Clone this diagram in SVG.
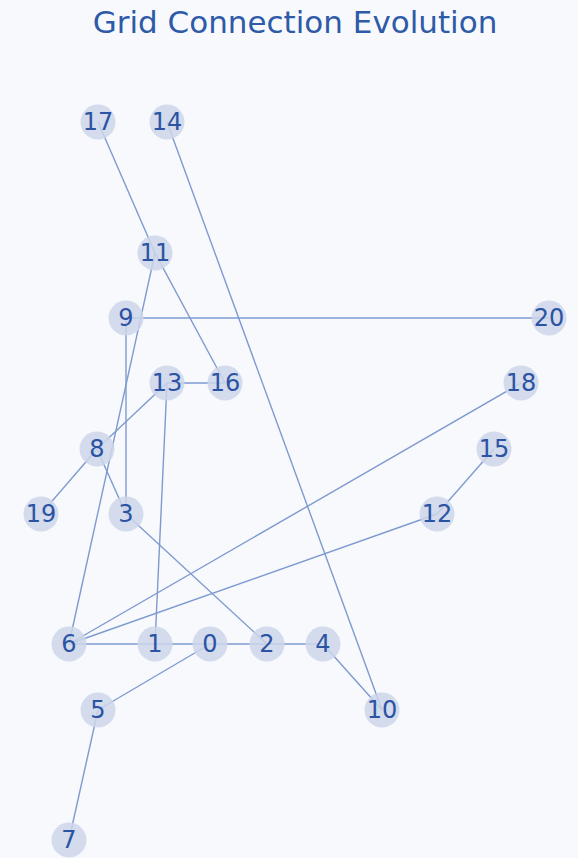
<svg xmlns="http://www.w3.org/2000/svg" width="578" height="858" viewBox="0 0 578 858">
<style>
.bg{fill:#f8f9fd}
.e{stroke:#7e9ad0;stroke-width:1.4;fill:none}
.n circle{fill:#ccd6ea;fill-opacity:0.85}
.n text{font-family:"DejaVu Sans",sans-serif;font-size:24px;fill:#2b53a3;text-anchor:middle;dominant-baseline:central}
.t{font-family:"DejaVu Sans",sans-serif;font-size:31px;fill:#2e5aa8;text-anchor:middle}
</style>
<rect class="bg" width="578" height="858"/>
<text class="t" x="295" y="33">Grid Connection Evolution</text>
<g id="edges">
<line class="e" x1="98" y1="122" x2="155" y2="253"/>
<line class="e" x1="167" y1="122" x2="382" y2="710"/>
<line class="e" x1="155" y1="253" x2="225" y2="383"/>
<line class="e" x1="155" y1="253" x2="69" y2="644"/>
<line class="e" x1="126" y1="318" x2="549" y2="318"/>
<line class="e" x1="126" y1="318" x2="126" y2="514"/>
<line class="e" x1="167" y1="383" x2="225" y2="383"/>
<line class="e" x1="167" y1="383" x2="97" y2="449"/>
<line class="e" x1="167" y1="383" x2="155" y2="644"/>
<line class="e" x1="97" y1="449" x2="41" y2="514"/>
<line class="e" x1="97" y1="449" x2="126" y2="514"/>
<line class="e" x1="126" y1="514" x2="267" y2="644"/>
<line class="e" x1="521" y1="383" x2="69" y2="644"/>
<line class="e" x1="437" y1="514" x2="69" y2="644"/>
<line class="e" x1="494" y1="449" x2="437" y2="514"/>
<line class="e" x1="69" y1="644" x2="155" y2="644"/>
<line class="e" x1="155" y1="644" x2="210" y2="644"/>
<line class="e" x1="210" y1="644" x2="267" y2="644"/>
<line class="e" x1="267" y1="644" x2="323" y2="644"/>
<line class="e" x1="210" y1="644" x2="98" y2="710"/>
<line class="e" x1="323" y1="644" x2="382" y2="710"/>
<line class="e" x1="98" y1="710" x2="69" y2="840"/>
</g>
<g id="n17" class="n"><circle cx="98" cy="122" r="17.5"/><text x="98" y="122">17</text></g>
<g id="n14" class="n"><circle cx="167" cy="122" r="17.5"/><text x="167" y="122">14</text></g>
<g id="n11" class="n"><circle cx="155" cy="253" r="17.5"/><text x="155" y="253">11</text></g>
<g id="n9" class="n"><circle cx="126" cy="318" r="17.5"/><text x="126" y="318">9</text></g>
<g id="n20" class="n"><circle cx="549" cy="318" r="17.5"/><text x="549" y="318">20</text></g>
<g id="n13" class="n"><circle cx="167" cy="383" r="17.5"/><text x="167" y="383">13</text></g>
<g id="n16" class="n"><circle cx="225" cy="383" r="17.5"/><text x="225" y="383">16</text></g>
<g id="n18" class="n"><circle cx="521" cy="383" r="17.5"/><text x="521" y="383">18</text></g>
<g id="n8" class="n"><circle cx="97" cy="449" r="17.5"/><text x="97" y="449">8</text></g>
<g id="n15" class="n"><circle cx="494" cy="449" r="17.5"/><text x="494" y="449">15</text></g>
<g id="n19" class="n"><circle cx="41" cy="514" r="17.5"/><text x="41" y="514">19</text></g>
<g id="n3" class="n"><circle cx="126" cy="514" r="17.5"/><text x="126" y="514">3</text></g>
<g id="n12" class="n"><circle cx="437" cy="514" r="17.5"/><text x="437" y="514">12</text></g>
<g id="n6" class="n"><circle cx="69" cy="644" r="17.5"/><text x="69" y="644">6</text></g>
<g id="n1" class="n"><circle cx="155" cy="644" r="17.5"/><text x="155" y="644">1</text></g>
<g id="n0" class="n"><circle cx="210" cy="644" r="17.5"/><text x="210" y="644">0</text></g>
<g id="n2" class="n"><circle cx="267" cy="644" r="17.5"/><text x="267" y="644">2</text></g>
<g id="n4" class="n"><circle cx="323" cy="644" r="17.5"/><text x="323" y="644">4</text></g>
<g id="n5" class="n"><circle cx="98" cy="710" r="17.5"/><text x="98" y="710">5</text></g>
<g id="n10" class="n"><circle cx="382" cy="710" r="17.5"/><text x="382" y="710">10</text></g>
<g id="n7" class="n"><circle cx="69" cy="840" r="17.5"/><text x="69" y="840">7</text></g>
</svg>
